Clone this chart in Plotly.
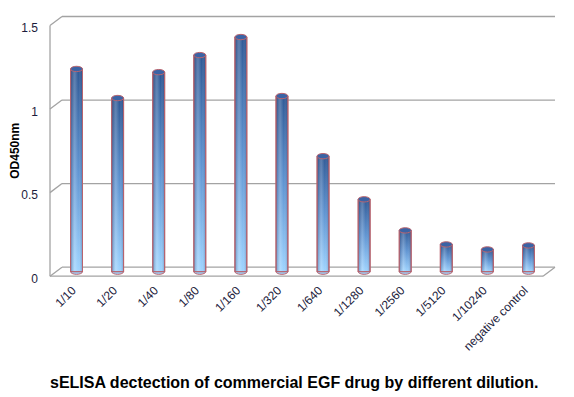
import plotly.graph_objects as go

# ---------------- data ----------------
categories = ["1/10", "1/20", "1/40", "1/80", "1/160", "1/320", "1/640",
              "1/1280", "1/2560", "1/5120", "1/10240", "negative control"]
od450 = [1.213, 1.039, 1.194, 1.296, 1.404, 1.051, 0.691,
         0.433, 0.247, 0.163, 0.133, 0.157]
y_tick_values = [0, 0.5, 1, 1.5]
y_tick_labels = ["0", "0.5", "1", "1.5"]
y_title = "OD450nm"
chart_title = "sELISA dectection of commercial EGF drug by different dilution."

# ---------------- layout geometry (window pixel targets) ----------------
WIN_W, WIN_H = 574, 397
OFF = 8                      # default page body margin
W, H = WIN_W - OFF, WIN_H - OFF
YMIN, YMAX = -0.02, 1.5
PLOT_L, PLOT_R, PLOT_T, PLOT_B = 55.5, 549.0, 21.0, 274.6   # window coords
ML, MT = PLOT_L - OFF, PLOT_T - OFF
MR, MB = WIN_W - PLOT_R, WIN_H - PLOT_B
PW = PLOT_R - PLOT_L
PH = PLOT_B - PLOT_T
DXP = 6 / PW      # depth offset (paper units)
DYP = 4.5 / PH
BAR_HALF = 0.145  # half width of a cylinder in category units
CAP_H = 0.016     # half height of ellipse caps in data units

FONT = "Liberation Sans, Arial, sans-serif"
GRID = "#a3a3a3"
RIM = "#b8646f"
TXT = "#1c1c3c"


def yp(v):
    return (v - YMIN) / (YMAX - YMIN)


def px_x(px):
    return (px - PLOT_L) / PW


def px_y(py):
    return (PLOT_B - py) / PH


fig = go.Figure()
shapes = []

# back wall gridlines + side diagonals
for v in y_tick_values:
    shapes.append(dict(type="line", xref="paper", yref="paper",
                       x0=DXP, x1=1 + DXP, y0=yp(v) + DYP, y1=yp(v) + DYP,
                       line=dict(color=GRID, width=1.3), layer="between"))
    shapes.append(dict(type="line", xref="paper", yref="paper",
                       x0=-DXP, x1=DXP, y0=yp(v) - DYP, y1=yp(v) + DYP,
                       line=dict(color=GRID, width=1.3), layer="between"))
# front vertical axis
shapes.append(dict(type="line", xref="paper", yref="paper",
                   x0=-DXP, x1=-DXP, y0=yp(0) - DYP, y1=yp(YMAX) - DYP,
                   line=dict(color=GRID, width=1.3), layer="between"))
# floor front edge + right diagonal
shapes.append(dict(type="line", xref="paper", yref="paper",
                   x0=-DXP, x1=1 - DXP, y0=yp(0) - DYP, y1=yp(0) - DYP,
                   line=dict(color=GRID, width=1.3), layer="between"))
shapes.append(dict(type="line", xref="paper", yref="paper",
                   x0=1 - DXP, x1=1 + DXP, y0=yp(0) - DYP, y1=yp(0) + DYP,
                   line=dict(color=GRID, width=1.3), layer="between"))

# cylinders
for i, (cat, v) in enumerate(zip(categories, od450)):
    xs = [i - BAR_HALF, i + BAR_HALF, i + BAR_HALF, i - BAR_HALF, i - BAR_HALF]
    ys = [0, 0, v, v, 0]
    # bottom ellipse
    shapes.append(dict(type="circle", xref="x", yref="y",
                       x0=i - BAR_HALF, x1=i + BAR_HALF, y0=-CAP_H, y1=CAP_H,
                       fillcolor="#9ed2fb", line=dict(color=RIM, width=1),
                       layer="between"))
    # body with vertical gradient
    fig.add_trace(go.Scatter(
        x=xs, y=ys, mode="lines", fill="toself",
        fillgradient=dict(type="vertical",
                          colorscale=[[0, "#9fd4ff"], [0.5, "#5f94d2"], [1, "#2e5895"]]),
        line=dict(color=RIM, width=1),
        name=cat, hoverinfo="skip", showlegend=False))
    # horizontal shading for the cylinder look
    fig.add_trace(go.Scatter(
        x=xs, y=ys, mode="lines", fill="toself",
        fillgradient=dict(type="horizontal",
                          colorscale=[[0, "rgba(20,40,90,0.35)"],
                                      [0.35, "rgba(255,255,255,0.22)"],
                                      [0.65, "rgba(255,255,255,0.0)"],
                                      [1, "rgba(20,40,90,0.30)"]]),
        line=dict(color=RIM, width=1),
        name=cat, hoverinfo="skip", showlegend=False))
    # top cap
    shapes.append(dict(type="circle", xref="x", yref="y",
                       x0=i - BAR_HALF, x1=i + BAR_HALF, y0=v - CAP_H, y1=v + CAP_H,
                       fillcolor="#3b63a5", line=dict(color=RIM, width=1)))

fig.update_layout(
    width=W, height=H,
    margin=dict(l=ML, r=MR, t=MT, b=MB, pad=0, autoexpand=False),
    paper_bgcolor="white", plot_bgcolor="rgba(0,0,0,0)",
    font=dict(family=FONT, size=12, color=TXT),
    shapes=shapes,
    showlegend=False,
    xaxis=dict(range=[-0.5, len(categories) - 0.5], automargin=False,
               tickvals=list(range(len(categories))), ticktext=categories,
               tickangle=-45, showgrid=False, zeroline=False, showline=False,
               ticks="", ticklabelstandoff=5, ticklabelshift=-4,
               tickfont=dict(family=FONT, size=12, color=TXT)),
    yaxis=dict(range=[YMIN, YMAX], tickvals=y_tick_values, ticktext=y_tick_labels,
               automargin=False,
               showgrid=False, zeroline=False, showline=False, ticks="",
               ticklabelstandoff=17, ticklabelshift=7,
               tickfont=dict(family=FONT, size=12, color=TXT)),
    annotations=[
        dict(text="<b>" + y_title + "</b>", xref="paper", yref="paper",
             x=px_x(15), y=px_y(151), textangle=-90,
             xanchor="center", yanchor="middle", showarrow=False,
             font=dict(family=FONT, size=12, color="#000000")),
        dict(text="<b>" + chart_title + "</b>", xref="paper", yref="paper",
             x=px_x(293.5), y=px_y(382),
             xanchor="center", yanchor="middle", showarrow=False,
             font=dict(family=FONT, size=16, color="#000000")),
    ],
)

fig.write_html("out.html")
